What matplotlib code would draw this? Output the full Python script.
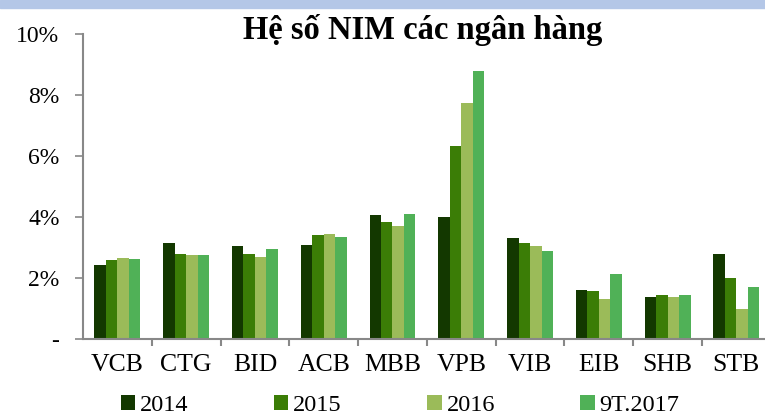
import numpy as np
import matplotlib.pyplot as plt
from matplotlib.patches import Rectangle

banks = ["VCB", "CTG", "BID", "ACB", "MBB", "VPB", "VIB", "EIB", "SHB", "STB"]
series_names = ["2014", "2015", "2016", "9T.2017"]
nim_2014 = [2.42, 3.15, 3.05, 3.07, 4.06, 4.00, 3.32, 1.60, 1.36, 2.80]
nim_2015 = [2.58, 2.79, 2.78, 3.41, 3.82, 6.31, 3.16, 1.58, 1.45, 2.00]
nim_2016 = [2.65, 2.75, 2.69, 3.45, 3.70, 7.72, 3.04, 1.32, 1.37, 0.99]
nim_9t2017 = [2.62, 2.75, 2.95, 3.34, 4.11, 8.79, 2.90, 2.12, 1.45, 1.71]
colors = ["#133800", "#3b7d06", "#9bbb59", "#50b157"]

plt.rcParams["font.family"] = ["Liberation Serif", "DejaVu Serif"]

fig = plt.figure(figsize=(7.65, 4.18), dpi=100)
fig.patches.append(Rectangle((0, 1 - 8 / 418), 1, 8 / 418, transform=fig.transFigure,
                             color="#b4c7e7", zorder=0))
ax = fig.add_axes([0.1085, 0.189, 0.899, 0.730])

x = np.arange(len(banks))
w = 0.167
all_series = [nim_2014, nim_2015, nim_2016, nim_9t2017]
for i, (vals, name, c) in enumerate(zip(all_series, series_names, colors)):
    ax.bar(x + (i - 1.5) * w, vals, w, color=c, label=name)

ax.set_xlim(-0.5, len(banks) - 0.5)
ax.set_ylim(0, 10)
ax.set_yticks([0, 2, 4, 6, 8, 10])
ax.set_yticklabels(["-", "2%", "4%", "6%", "8%", "10%"], fontsize=17)
ax.set_xticks(x)
ax.set_xticklabels(banks, fontsize=18.5)
ax.tick_params(axis="x", length=0, pad=11)
ax.set_xticks(np.arange(0.5, len(banks) - 0.5, 1), minor=True)
ax.tick_params(axis="x", which="minor", length=5, color="#888888", width=1.5)
ax.tick_params(axis="y", length=6, color="#888888", width=1.2, pad=11)
for s in ["top", "right"]:
    ax.spines[s].set_visible(False)
for s in ["left", "bottom"]:
    ax.spines[s].set_color("#888888")
    ax.spines[s].set_linewidth(1.5)

fig.text(0.553, 0.929, "Hệ số NIM các ngân hàng", ha="center", va="center",
         fontsize=23.5, fontweight="bold")

fig.legend(loc="center", bbox_to_anchor=(0.523, 0.03), ncol=4, frameon=False,
           fontsize=17.5, handlelength=0.6, handleheight=0.6, handletextpad=0.2,
           columnspacing=3.5, borderpad=0.1)

fig.savefig("out.png", dpi=100)
